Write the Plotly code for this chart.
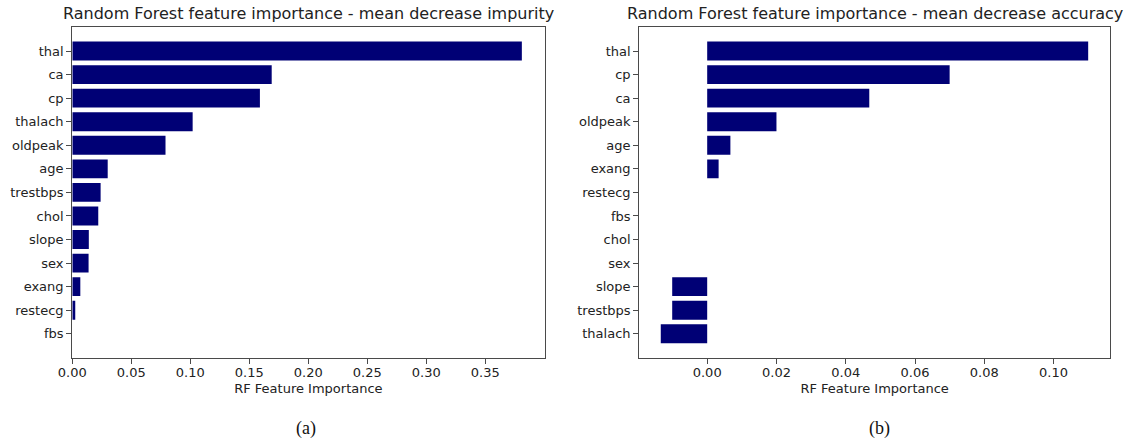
import plotly.graph_objects as go

# Mean decrease in impurity (top to bottom)
mdi_features = ["thal", "ca", "cp", "thalach", "oldpeak", "age", "trestbps",
                "chol", "slope", "sex", "exang", "restecg", "fbs"]
mdi_values = [0.381, 0.169, 0.159, 0.102, 0.079, 0.030, 0.024,
              0.022, 0.014, 0.0138, 0.0068, 0.0025, 0.0]

# Mean decrease in accuracy (permutation importance, top to bottom)
mda_features = ["thal", "cp", "ca", "oldpeak", "age", "exang", "restecg",
                "fbs", "chol", "sex", "slope", "trestbps", "thalach"]
mda_values = [0.110, 0.070, 0.0468, 0.020, 0.0067, 0.0033, 0.0,
              0.0, 0.0, 0.0, -0.0101, -0.0101, -0.0134]

left_ticks = [0.00, 0.05, 0.10, 0.15, 0.20, 0.25, 0.30, 0.35]
right_ticks = [0.00, 0.02, 0.04, 0.06, 0.08, 0.10]

BAR = "#000075"
FRAME = "#4a4a4a"
TXT = "#222222"
FONT = "DejaVu Sans"

fig = go.Figure()
fig.add_trace(go.Bar(x=mdi_values, y=mdi_features, orientation="h",
                     marker=dict(color=BAR, line=dict(width=0)),
                     xaxis="x", yaxis="y", showlegend=False))
fig.add_trace(go.Bar(x=mda_values, y=mda_features, orientation="h",
                     marker=dict(color=BAR, line=dict(width=0)),
                     xaxis="x2", yaxis="y2", showlegend=False))


def x_axis(domain, rng, ticks, anchor):
    return dict(domain=domain, range=rng, tickvals=ticks,
                ticktext=[f"{t:.2f}" for t in ticks], anchor=anchor,
                showline=True, mirror=True, linecolor=FRAME, linewidth=1.3,
                ticks="outside", ticklen=5, tickwidth=1.1, tickcolor=FRAME,
                ticklabelstandoff=-3,
                showgrid=False, zeroline=False,
                tickfont=dict(family=FONT, size=13, color=TXT),
                title=dict(text="RF Feature Importance", standoff=4,
                           font=dict(family=FONT, size=13, color=TXT)),
                automargin=False)


def y_axis(domain, anchor):
    return dict(domain=domain, range=[12 + 1.04, -1.04], type="category",
                anchor=anchor, showline=True, mirror=True, linecolor=FRAME,
                linewidth=1.3, ticks="outside", ticklen=5, tickwidth=1.1,
                tickcolor=FRAME, showgrid=False, zeroline=False,
                tickfont=dict(family=FONT, size=13, color=TXT),
                automargin=False)


def label(text, x, y, family, size, color):
    return dict(text=text, x=x / 1133, y=1 - y / 444, xref="paper", yref="paper",
                xanchor="center", yanchor="middle", showarrow=False,
                font=dict(family=family, size=size, color=color))


ydom = [1 - 358.3 / 444, 1 - 26.5 / 444]
fig.update_layout(
    width=1133, height=444,
    margin=dict(l=0, r=0, t=0, b=0),
    paper_bgcolor="white", plot_bgcolor="white",
    bargap=0.2,
    xaxis=x_axis([72.3 / 1133, 544.5 / 1133], [0, 0.4002], left_ticks, "y"),
    yaxis=y_axis(ydom, "x"),
    xaxis2=x_axis([639.3 / 1133, 1110 / 1133], [-0.0196, 0.1163], right_ticks, "y2"),
    yaxis2=y_axis(ydom, "x2"),
    annotations=[
        label("Random Forest feature importance - mean decrease impurity",
              (72.3 + 544.5) / 2, 13, FONT, 16, TXT),
        label("Random Forest feature importance - mean decrease accuracy",
              (639.3 + 1110) / 2, 13, FONT, 16, TXT),
        label("(a)", 306, 428, "Liberation Serif", 18, "#111"),
        label("(b)", 879, 428, "Liberation Serif", 18, "#111"),
    ],
)

fig.write_html("out.html")
